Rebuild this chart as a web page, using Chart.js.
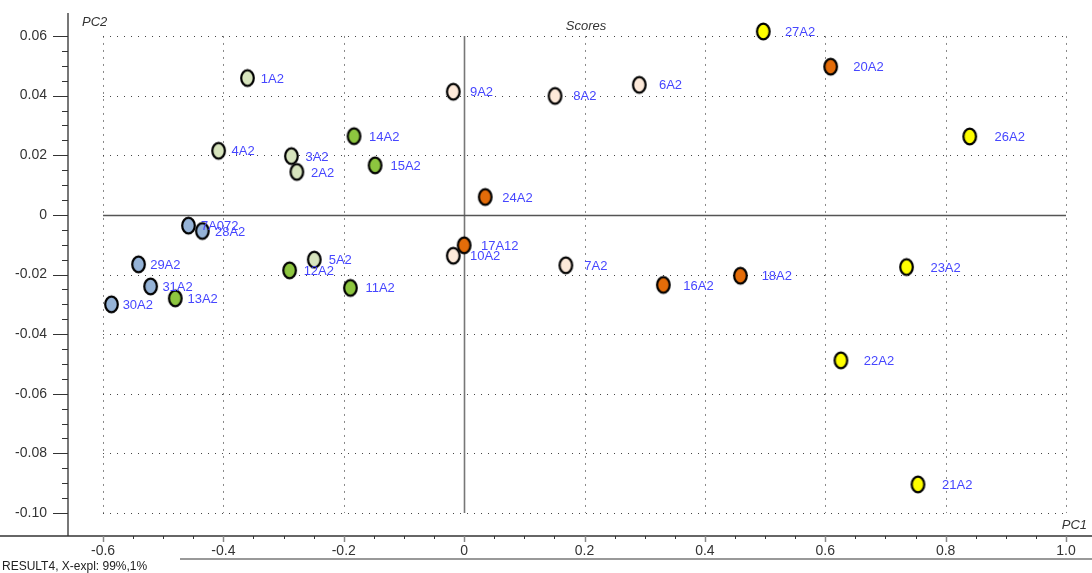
<!doctype html>
<html>
<head>
<title>Scores</title>
<script src="https://cdn.jsdelivr.net/npm/chart.js@4.4.1/dist/chart.umd.min.js"></script>
<style>
	body { margin: 0; background: #fff; }
	canvas { display: block; }
</style>
</head>
<body>
<canvas id="canvas" width="1092" height="573"></canvas>
<script>
	// sample scores, grouped by colour class
	var lightNames = ['1A2', '2A2', '3A2', '4A2', '5A2'];
	var lightPC1 = [-0.360, -0.278, -0.287, -0.408, -0.249];
	var lightPC2 = [0.0459, 0.0144, 0.0197, 0.0215, -0.0150];

	var greenNames = ['11A2', '12A2', '13A2', '14A2', '15A2'];
	var greenPC1 = [-0.189, -0.290, -0.480, -0.183, -0.148];
	var greenPC2 = [-0.0245, -0.0186, -0.0280, 0.0264, 0.0166];

	var peachNames = ['6A2', '7A2', '8A2', '9A2', '10A2'];
	var peachPC1 = [0.291, 0.169, 0.151, -0.018, -0.018];
	var peachPC2 = [0.0436, -0.0169, 0.0399, 0.0413, -0.0137];

	var orangeNames = ['16A2', '17A12', '18A2', '20A2', '24A2'];
	var orangePC1 = [0.331, 0.000, 0.459, 0.609, 0.035];
	var orangePC2 = [-0.0235, -0.0102, -0.0204, 0.0497, 0.0060];

	var yellowNames = ['21A2', '22A2', '23A2', '26A2', '27A2'];
	var yellowPC1 = [0.754, 0.626, 0.735, 0.840, 0.497];
	var yellowPC2 = [-0.0904, -0.0488, -0.0175, 0.0263, 0.0615];

	var blueNames = ['7A072', '28A2', '29A2', '30A2', '31A2'];
	var bluePC1 = [-0.458, -0.435, -0.541, -0.586, -0.521];
	var bluePC2 = [-0.0036, -0.0054, -0.0166, -0.0300, -0.0240];

	var xTicks = [-0.6, -0.4, -0.2, 0, 0.2, 0.4, 0.6, 0.8, 1.0];
	var xTickLabels = ['-0.6', '-0.4', '-0.2', '0', '0.2', '0.4', '0.6', '0.8', '1.0'];
	var yTicks = [0.06, 0.04, 0.02, 0, -0.02, -0.04, -0.06, -0.08, -0.10];
	var yTickLabels = ['0.06', '0.04', '0.02', '0', '-0.02', '-0.04', '-0.06', '-0.08', '-0.10'];

	var FONT = '"Liberation Sans", Arial, sans-serif';
	Chart.defaults.font.family = FONT;

	function makeMarker(fill) {
		var c = document.createElement('canvas');
		c.width = 17;
		c.height = 21;
		var g = c.getContext('2d');
		g.beginPath();
		g.ellipse(8.5, 10.5, 6.3, 7.8, 0, 0, Math.PI * 2);
		g.fillStyle = fill;
		g.fill();
		g.lineWidth = 2.2;
		g.strokeStyle = '#000';
		g.stroke();
		return c;
	}

	function group(names, xs, ys, fill) {
		return {
			data: xs.map(function(x, i) { return {x: x, y: ys[i], name: names[i]}; }),
			pointStyle: makeMarker(fill),
			pointRadius: 8,
			pointHoverRadius: 8
		};
	}

	function labelOf(list, v) {
		var i = list.findIndex(function(t) { return Math.abs(t - v) < 1e-9; });
		return i < 0 ? '' : i;
	}

	function noPadding(scale) {
		scale.paddingTop = 0;
		scale.paddingBottom = 0;
		scale.paddingLeft = 0;
		scale.paddingRight = 0;
	}

	var frame = {
		id: 'frame',
		beforeDatasetsDraw: function(chart) {
			var ctx = chart.ctx, xs = chart.scales.x, ys = chart.scales.y;
			var left = xs.getPixelForValue(-0.6), right = xs.getPixelForValue(1.0);
			var top = ys.getPixelForValue(0.06), bottom = ys.getPixelForValue(-0.10);
			ctx.save();
			// dotted grid
			ctx.lineWidth = 1;
			ctx.strokeStyle = '#888';
			ctx.setLineDash([2, 5]);
			xTicks.forEach(function(v) {
				if (v === 0) return;
				var px = Math.round(xs.getPixelForValue(v)) + 0.5;
				ctx.beginPath();
				ctx.moveTo(px, top);
				ctx.lineTo(px, bottom);
				ctx.stroke();
			});
			ctx.strokeStyle = '#444';
			ctx.setLineDash([1, 6]);
			yTicks.forEach(function(v) {
				if (v === 0) return;
				var py = Math.round(ys.getPixelForValue(v)) + 0.5;
				ctx.beginPath();
				ctx.moveTo(left, py);
				ctx.lineTo(right, py);
				ctx.stroke();
			});
			ctx.setLineDash([]);
			// zero lines
			var zx = Math.round(xs.getPixelForValue(0)) + 0.5;
			var zy = Math.round(ys.getPixelForValue(0)) + 0.5;
			ctx.strokeStyle = '#777';
			ctx.lineWidth = 1.6;
			ctx.beginPath();
			ctx.moveTo(zx, top);
			ctx.lineTo(zx, bottom);
			ctx.stroke();
			ctx.strokeStyle = '#555';
			ctx.lineWidth = 1.3;
			ctx.beginPath();
			ctx.moveTo(left, zy);
			ctx.lineTo(right, zy);
			ctx.stroke();

			// axes lines
			var area = chart.chartArea;
			ctx.strokeStyle = '#777';
			ctx.lineWidth = 2;
			ctx.beginPath();
			ctx.moveTo(area.left, area.top);
			ctx.lineTo(area.left, area.bottom);
			ctx.stroke();
			ctx.strokeStyle = '#333';
			ctx.lineWidth = 1.3;
			ctx.beginPath();
			ctx.moveTo(0, area.bottom);
			ctx.lineTo(chart.width, area.bottom);
			ctx.stroke();

			// tick marks
			ctx.strokeStyle = '#333';
			ctx.lineWidth = 1;
			for (var k = 0; k <= 32; k++) {
				var vy = -0.10 + k * 0.005;
				var py = Math.round(ys.getPixelForValue(vy)) + 0.5;
				var major = k % 4 === 0;
				ctx.beginPath();
				ctx.moveTo(area.left - (major ? 15 : 6), py);
				ctx.lineTo(area.left, py);
				ctx.stroke();
			}
			for (var j = 0; j <= 32; j++) {
				var vx = -0.6 + j * 0.05;
				var px = Math.round(xs.getPixelForValue(vx)) + 0.5;
				var majorX = j % 4 === 0;
				ctx.strokeStyle = majorX ? '#888' : '#333';
				ctx.lineWidth = majorX ? 1.5 : 1;
				ctx.beginPath();
				ctx.moveTo(px, area.bottom);
				ctx.lineTo(px, area.bottom + (majorX ? 6 : 3));
				ctx.stroke();
			}

			// status separator
			ctx.strokeStyle = '#999';
			ctx.lineWidth = 2;
			ctx.beginPath();
			ctx.moveTo(180, 559);
			ctx.lineTo(chart.width, 559);
			ctx.stroke();

			// texts
			ctx.fillStyle = '#333';
			ctx.font = 'italic 13px ' + FONT;
			ctx.textBaseline = 'middle';
			ctx.textAlign = 'left';
			ctx.fillText('PC2', 82, 22);
			ctx.textAlign = 'center';
			ctx.fillText('Scores', 586, 26);
			ctx.textAlign = 'right';
			ctx.fillText('PC1', 1087, 525);
			ctx.textAlign = 'left';
			ctx.fillStyle = '#222';
			ctx.font = '12px ' + FONT;
			ctx.fillText('RESULT4, X-expl: 99%,1%', 2, 567);
			ctx.restore();
		},
		afterDatasetsDraw: function(chart) {
			var ctx = chart.ctx;
			ctx.save();
			ctx.fillStyle = '#4646ff';
			ctx.font = '13px ' + FONT;
			ctx.textBaseline = 'middle';
			ctx.textAlign = 'left';
			chart.data.datasets.forEach(function(ds, di) {
				chart.getDatasetMeta(di).data.forEach(function(pt, i) {
					var off = 11 + 0.016 * (pt.x - 100);
					ctx.fillText(ds.data[i].name, pt.x + off, pt.y + 1);
				});
			});
			ctx.restore();
		}
	};

	var config = {
		type: 'scatter',
		data: {
			datasets: [
				group(lightNames, lightPC1, lightPC2, '#d7e4bd'),
				group(greenNames, greenPC1, greenPC2, '#8dc63f'),
				group(peachNames, peachPC1, peachPC2, '#fde9d9'),
				group(yellowNames, yellowPC1, yellowPC2, '#ffff00'),
				group(blueNames, bluePC1, bluePC2, '#95b3d7'),
				group(orangeNames, orangePC1, orangePC2, '#e36c09')
			]
		},
		options: {
			responsive: false,
			animation: false,
			devicePixelRatio: 1,
			layout: { autoPadding: false, padding: { top: 13, right: 0, left: 0, bottom: 0 } },
			plugins: {
				legend: { display: false },
				tooltip: { enabled: false },
				title: { display: false }
			},
			scales: {
				x: {
					type: 'linear',
					min: -0.6582,
					max: 1.0432,
					grid: { display: false, drawTicks: false },
					border: { display: false },
					afterBuildTicks: function(scale) {
						scale.ticks = xTicks.map(function(v) { return {value: v}; });
					},
					afterFit: function(scale) { scale.height = 37; noPadding(scale); },
					ticks: {
						padding: 7,
						color: '#333',
						font: { size: 14 },
						maxRotation: 0,
						autoSkip: false,
						callback: function(v) { return xTickLabels[labelOf(xTicks, v)]; }
					}
				},
				y: {
					type: 'linear',
					min: -0.1077,
					max: 0.0677,
					grid: { display: false, drawTicks: false },
					border: { display: false },
					afterBuildTicks: function(scale) {
						scale.ticks = yTicks.map(function(v) { return {value: v}; });
					},
					afterFit: function(scale) { scale.width = 68; noPadding(scale); },
					ticks: {
						padding: 21,
						color: '#333',
						font: { size: 14 },
						autoSkip: false,
						callback: function(v) { return yTickLabels[labelOf(yTicks, v)]; }
					}
				}
			}
		},
		plugins: [frame]
	};

	window.onload = function() {
		var ctx = document.getElementById('canvas').getContext('2d');
		window.myScatter = new Chart(ctx, config);
	};
</script>
</body>
</html>
